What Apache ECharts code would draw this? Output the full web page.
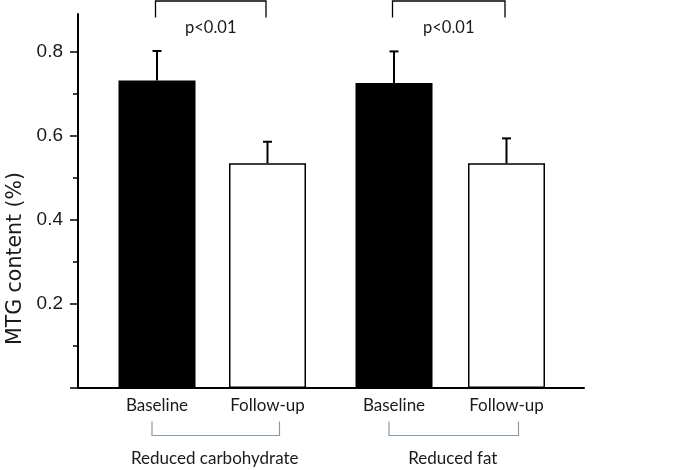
<!DOCTYPE html>
<html>
<head>
<meta charset="utf-8">
<script src="https://cdn.jsdelivr.net/npm/echarts@6/dist/echarts.min.js"></script>
<style>
html,body{margin:0;padding:0;background:#fff;}
#chart{width:685px;height:470px;}
</style>
</head>
<body>
<div id="chart"></div>
<script>
// ---- data ----
const timepoints = ['Baseline', 'Follow-up'];
const groups = ['Reduced carbohydrate', 'Reduced fat'];
const carbMean = [0.732, 0.535];
const carbSE = [0.070, 0.051];
const fatMean = [0.726, 0.535];
const fatSE = [0.075, 0.059];
const pLabels = ['p<0.01', 'p<0.01'];
const yMajorTicks = [0, 0.2, 0.4, 0.6, 0.8];
const yLabelTicks = [0.2, 0.4, 0.6, 0.8];
const yMinorTicks = [0.1, 0.3, 0.5, 0.7];
const yName = 'MTG content (%)';

const Y_MAX = 0.89;
const barFill = ['#000000', '#ffffff'];
const means = [carbMean, fatMean];
const ses = [carbSE, fatSE];

const chart = echarts.init(document.getElementById('chart'), null, {renderer: 'canvas'});

const TOP = 14, BOTTOM = 82;

function barData(arr) {
  return arr.map((v, i) => ({
    value: v,
    itemStyle: {color: barFill[i], borderColor: '#000', borderWidth: 1.5}
  }));
}

function errRender(params, api) {
  const x = api.value(0), m = api.value(1), s = api.value(2);
  const p0 = api.coord([x, m]);
  const p1 = api.coord([x, m + s]);
  const st = {stroke: '#000', lineWidth: 2};
  return {
    type: 'group',
    children: [
      {type: 'line', shape: {x1: p0[0], y1: p0[1], x2: p1[0], y2: p1[1]}, style: st},
      {type: 'line', shape: {x1: p1[0] - 4.5, y1: p1[1], x2: p1[0] + 4.5, y2: p1[1]}, style: st}
    ]
  };
}

function sigRender(label) {
  return function (params, api) {
    if (params.dataIndex > 0) return null;
    const a = api.coord([0, 0]), b = api.coord([1, 0]);
    const top = params.coordSys.y;
    const xa = a[0] - 1.5, xb = b[0] - 1.5;
    const st = {stroke: '#000', lineWidth: 1.3, fill: null};
    return {
      type: 'group',
      children: [
        {type: 'polyline', shape: {points: [[xa, top + 3.5], [xa, top - 13], [xb, top - 13], [xb, top + 3.5]]}, style: st},
        {type: 'text', style: {text: label, x: (xa + xb) / 2, y: top + 14, align: 'center', verticalAlign: 'middle',
          fontFamily: 'Lato', fontSize: 16.5, fill: '#1a1a1a'}}
      ]
    };
  };
}

function groupBracketRender(params, api) {
  if (params.dataIndex > 0) return null;
  const a = api.coord([0, 0]), b = api.coord([1, 0]);
  const cs = params.coordSys;
  const base = cs.y + cs.height;
  const xa = a[0] - 5, xb = b[0] + 12;
  return {
    type: 'polyline',
    shape: {points: [[xa, base + 33.5], [xa, base + 47.5], [xb, base + 47.5], [xb, base + 33.5]]},
    style: {stroke: '#8c9aa6', lineWidth: 1.2, fill: null}
  };
}

const series = [];
[0, 1].forEach(g => {
  series.push({
    type: 'bar', xAxisIndex: g + 1, yAxisIndex: g + 2,
    barWidth: 77, data: barData(means[g]), silent: true
  });
  series.push({
    type: 'custom', xAxisIndex: g + 1, yAxisIndex: g + 2,
    renderItem: errRender, clip: false, silent: true,
    encode: {x: 0, y: 1},
    data: means[g].map((m, i) => [i, m, ses[g][i]]),
    z: 3
  });
  series.push({
    type: 'custom', xAxisIndex: g + 1, yAxisIndex: g + 2,
    renderItem: sigRender(pLabels[g]), clip: false, silent: true,
    encode: {x: 0, y: 1},
    data: means[g].map((m, i) => [i, m]),
    z: 3
  });
  series.push({
    type: 'custom', xAxisIndex: g + 1, yAxisIndex: g + 2,
    renderItem: groupBracketRender, clip: false, silent: true,
    encode: {x: 0, y: 1},
    data: means[g].map((m, i) => [i, m]),
    z: 3
  });
});

const hiddenY = gi => ({
  type: 'value', gridIndex: gi, min: 0, max: Y_MAX, show: false, splitLine: {show: false}
});

const catAxis = (gi, name) => ({
  type: 'category', gridIndex: gi, data: timepoints,
  axisLine: {show: false}, axisTick: {show: false}, splitLine: {show: false},
  axisLabel: {fontFamily: 'Lato', fontSize: 17, color: '#1a1a1a', margin: 9},
  name: name, nameLocation: 'middle', nameGap: 62,
  nameTextStyle: {fontFamily: 'Lato', fontSize: 17, color: '#1a1a1a', padding: [0, 0, 0, 5]}
});

const gridBase = {top: TOP, bottom: BOTTOM, containLabel: false, outerBoundsMode: 'none'};

const option = {
  animation: false,
  backgroundColor: '#ffffff',
  grid: [
    Object.assign({left: 78, right: 101}, gridBase),
    Object.assign({left: 101.75, width: 221}, gridBase),
    Object.assign({left: 337.75, width: 225}, gridBase)
  ],
  xAxis: [
    {type: 'value', gridIndex: 0, min: 0, max: 1,
      axisLine: {show: true, onZero: false, lineStyle: {color: '#000', width: 2}},
      axisTick: {show: false}, axisLabel: {show: false}, splitLine: {show: false}},
    catAxis(1, groups[0]),
    catAxis(2, groups[1])
  ],
  yAxis: [
    {type: 'value', gridIndex: 0, position: 'left', min: 0, max: Y_MAX,
      axisLine: {show: true, onZero: false, lineStyle: {color: '#000', width: 2}},
      axisTick: {show: true, length: 8, customValues: yMajorTicks, lineStyle: {color: '#000', width: 1.5}},
      axisLabel: {show: true, customValues: yLabelTicks, formatter: v => v.toFixed(1),
        fontFamily: 'Liberation Sans', fontSize: 19, color: '#1a1a1a', margin: 15},
      splitLine: {show: false},
      name: yName, nameLocation: 'middle', nameGap: 52, nameRotate: 90,
      nameTextStyle: {fontFamily: 'DejaVu Sans', fontSize: 20.5, color: '#1a1a1a', padding: [0, 115, 0, 0]}},
    {type: 'value', gridIndex: 0, position: 'left', offset: 0, min: 0, max: Y_MAX,
      axisLine: {show: false, onZero: false},
      axisTick: {show: true, length: 5, customValues: yMinorTicks, lineStyle: {color: '#000', width: 1.5}},
      axisLabel: {show: false}, splitLine: {show: false}},
    hiddenY(1),
    hiddenY(2)
  ],
  series: series
};

chart.setOption(option);
</script>
</body>
</html>
